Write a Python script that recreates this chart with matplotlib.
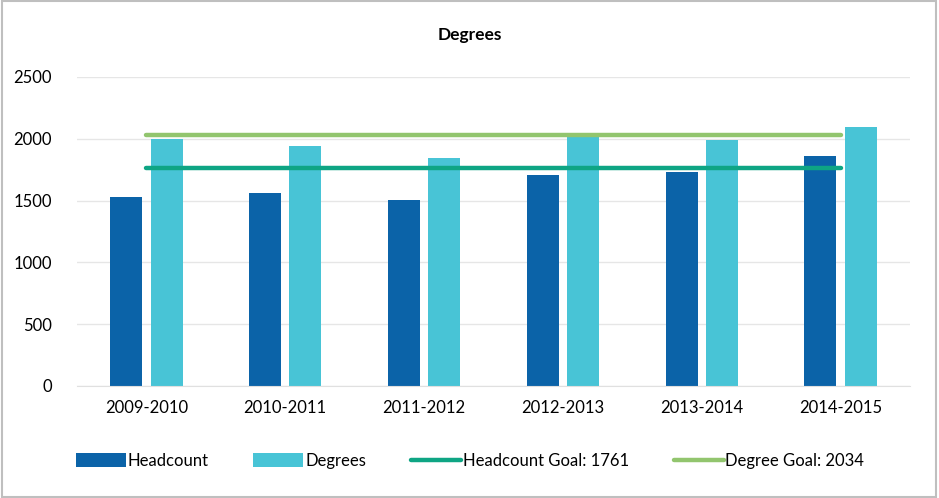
import matplotlib.pyplot as plt
import numpy as np
from matplotlib.patches import Rectangle

# Chart data
years = ["2009-2010", "2010-2011", "2011-2012", "2012-2013", "2013-2014", "2014-2015"]
headcount = [1528, 1561, 1505, 1707, 1730, 1860]
degrees = [1997, 1941, 1845, 2025, 1990, 2095]
headcount_goal = 1761
degree_goal = 2034

plt.rcParams['font.family'] = ['Lato', 'DejaVu Sans']

fig = plt.figure(figsize=(9.39, 4.98), dpi=100)
ax = fig.add_axes([77 / 939, 1 - 386 / 498, (910 - 77) / 939, (386 - 77) / 498])

x = np.arange(len(years))
width = 0.23
b1 = ax.bar(x - 0.145, headcount, width, color="#0B63A8", label="Headcount", zorder=2)
b2 = ax.bar(x + 0.145, degrees, width, color="#48C4D6", label="Degrees", zorder=2)
l1, = ax.plot(x, [headcount_goal] * len(x), color="#0EA584", lw=3.2,
              solid_capstyle="round", label="Headcount Goal: 1761", zorder=3)
l2, = ax.plot(x, [degree_goal] * len(x), color="#92C56E", lw=3.2,
              solid_capstyle="round", label="Degree Goal: 2034", zorder=3)

ax.set_xlim(-0.5, len(years) - 0.5)
ax.set_ylim(0, 2500)
ax.set_yticks(range(0, 2501, 500))
ax.set_xticks(x)
ax.set_xticklabels(years)
ax.tick_params(length=0, labelsize=12, colors="#000000")
ax.tick_params(axis="y", pad=18)
ax.tick_params(axis="x", pad=10)
ax.grid(axis="y", color="#E6E6E6", lw=1, zorder=0)
for s in ["top", "right", "left"]:
    ax.spines[s].set_visible(False)
ax.spines["bottom"].set_color("#E0E0E0")

fig.text(470 / 939, 1 - 35 / 498, "Degrees", ha="center", va="center",
         fontsize=12.5, fontweight="bold")

fig.legend(handles=[b1, b2, l1, l2], loc="center",
           bbox_to_anchor=(470 / 939, 1 - 461 / 498),
           ncol=4, frameon=False, fontsize=12, handlelength=3.0,
           handletextpad=0.1, columnspacing=2.7, handleheight=0.9)

fig.patches.append(Rectangle((0.002, 0.003), 0.995, 0.994, transform=fig.transFigure,
                             fill=False, edgecolor="#BFBFBF", lw=1.5))

fig.savefig("out.png", dpi=100)
